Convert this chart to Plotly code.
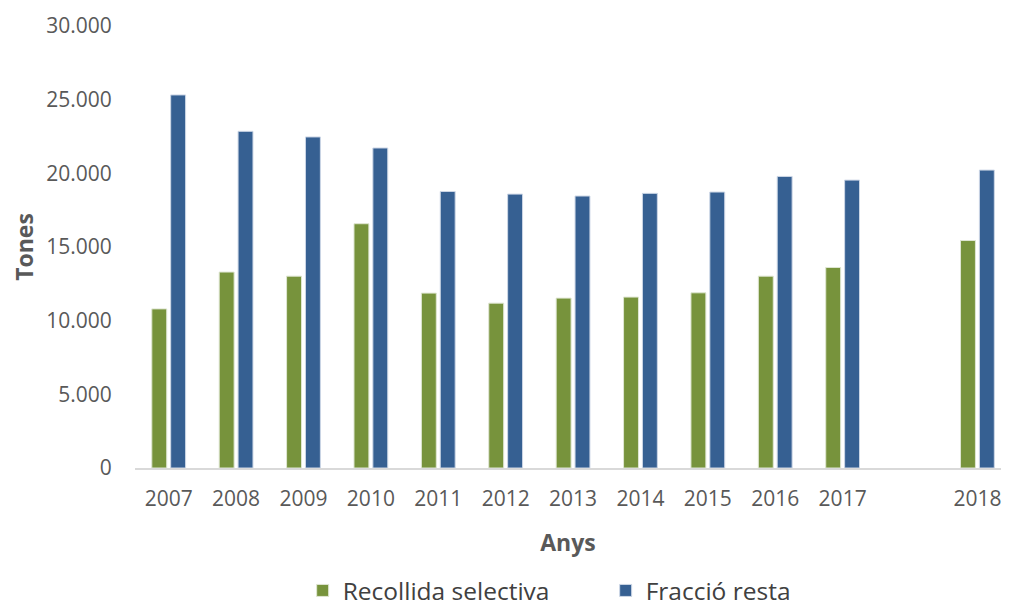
"""
Recollida selectiva vs fracció resta, 2007-2018
"""
import plotly.graph_objects as go

years = ["2007", "2008", "2009", "2010", "2011", "2012", "2013", "2014",
         "2015", "2016", "2017", "2018"]
# empty slot between 2017 and 2018, as in the original
axis_categories = years[:11] + [" "] + years[11:]

recollida_selectiva = [10800, 13300, 13020, 16580, 11870, 11190, 11530, 11600,
                       11890, 13020, 13610, 15440]
fraccio_resta = [25320, 22850, 22470, 21720, 18770, 18590, 18460, 18640,
                 18730, 19790, 19540, 20220]

GREEN = "#77933C"
BLUE = "#366092"
FONT = "Open Sans"

fig = go.Figure()
fig.add_trace(go.Bar(
    x=years, y=recollida_selectiva, name="Recollida selectiva",
    marker=dict(color=GREEN, line=dict(color="#dfe6d2", width=1))
))
fig.add_trace(go.Bar(
    x=years, y=fraccio_resta, name="Fracció resta",
    marker=dict(color=BLUE, line=dict(color="#cdd7e6", width=1))
))

# page body has an 8px margin; the legend runs slightly past the window bottom
fig.update_layout(
    width=994, height=605,
    margin=dict(l=127, r=1, t=18, b=145),
    paper_bgcolor="white", plot_bgcolor="white",
    font=dict(family=FONT, size=21, color="#595959"),
    separators=",.",
    barmode="group", bargap=0.44, bargroupgap=0.21,
    showlegend=True,
    legend=dict(orientation="h", x=0.5435, xanchor="center",
                yref="container", y=0.0, yanchor="bottom",
                font=dict(size=24.5, color="#404040"), entrywidth=258),
    xaxis=dict(
        type="category", categoryorder="array", categoryarray=axis_categories,
        range=[-0.5, 12.35], automargin=False, ticklabeloverflow="allow",
        showline=True, linecolor="#d9d9d9", linewidth=2,
        ticks="outside", ticklen=11, tickcolor="rgba(0,0,0,0)",
        showgrid=False,
        title=dict(text="<b>Anys</b>", font=dict(size=23, color="#595959"), standoff=24),
    ),
    yaxis=dict(
        range=[0, 30000], dtick=5000, tickformat=",d", automargin=False,
        showgrid=False, zeroline=False, showline=False,
        ticks="outside", ticklen=18, tickcolor="rgba(0,0,0,0)",
        title=dict(text="<b>Tones</b>", font=dict(size=23, color="#595959"), standoff=10),
    ),
)

fig.write_html("out.html")
